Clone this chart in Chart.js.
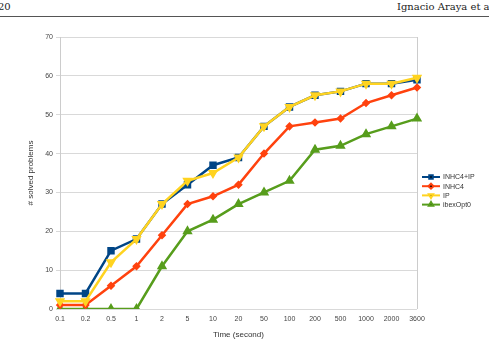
<!DOCTYPE html>
<html>
<head>
<meta charset="utf-8">
<script src="https://cdn.jsdelivr.net/npm/chart.js@4"></script>
<style>
  html, body { margin: 0; padding: 0; background: #fff; }
  body { width: 489px; height: 344px; position: relative; overflow: hidden; }
  .hdr { position: absolute; top: 1px; font-family: "DejaVu Serif", "Liberation Serif", serif; font-size: 10px; color: #222; white-space: nowrap; }
  #rule { position: absolute; left: 0; right: 0; top: 16px; height: 1px; background: #555; }
  #wrap { position: absolute; left: 0; top: 0; width: 489px; height: 344px; }
</style>
</head>
<body>
<div class="hdr" style="left:-2px">20</div>
<div class="hdr" style="left:397px">Ignacio Araya et al.</div>
<div id="rule"></div>
<div id="wrap"><canvas id="chart"></canvas></div>
<script>
// Zeitlimits (Kategorien)
const times = ["0.1", "0.2", "0.5", "1", "2", "5", "10", "20", "50", "100", "200", "500", "1000", "2000", "3600"];

// gelöste Probleme je Variante
const inhc4ip = [4, 4, 15, 18, 27, 32, 37, 39, 47, 52, 55, 56, 58, 58, 59];
const inhc4 = [1, 1, 6, 11, 19, 27, 29, 32, 40, 47, 48, 49, 53, 55, 57];
const ip = [2, 2, 12, 18, 27, 33, 35, 39, 47, 52, 55, 56, 58, 58, 59.5];
const ibexOpt0 = [0, 0, 0, 0, 11, 20, 23, 27, 30, 33, 41, 42, 45, 47, 49];

const yTicks = [0, 10, 20, 30, 40, 50, 60, 70];

const tickFont = { family: "Liberation Sans, Arial, sans-serif", size: 7 };

// eigene Legende: Linie + Marker
const legendPlugin = {
  id: "lineLegend",
  afterDraw(chart) {
    const ctx = chart.ctx;
    const items = chart.data.datasets.slice().sort((a, b) => a.legendIndex - b.legendIndex);
    items.forEach((ds, i) => {
      const y = 177 + i * 9.2;
      ctx.save();
      ctx.strokeStyle = ds.borderColor;
      ctx.lineWidth = 2;
      ctx.beginPath();
      ctx.moveTo(422, y);
      ctx.lineTo(440, y);
      ctx.stroke();
      Chart.helpers.drawPoint(ctx, {
        pointStyle: ds.pointStyle,
        radius: 2.5,
        rotation: ds.pointRotation || 0,
        borderWidth: 1,
      }, 431, y);
      ctx.fillStyle = "#333";
      ctx.font = "7px Liberation Sans, Arial, sans-serif";
      ctx.textBaseline = "middle";
      ctx.fillText(ds.label, 443, y + 0.5);
      ctx.restore();
    });
  },
};

function makeSet(label, data, color, style, radius, order, legendIndex, rotation) {
  return {
    label,
    data,
    borderColor: color,
    backgroundColor: color,
    pointBackgroundColor: color,
    pointBorderColor: color,
    pointStyle: style,
    pointRadius: radius,
    pointRotation: rotation || 0,
    borderWidth: 2.5,
    tension: 0,
    order,
    legendIndex,
  };
}

const ctx = document.getElementById("chart").getContext("2d");
new Chart(ctx, {
  type: "line",
  data: {
    labels: times,
    datasets: [
      makeSet("INHC4+IP", inhc4ip, "#004586", "rect", 3.5, 1, 0),
      makeSet("INHC4", inhc4, "#ff420e", "rectRot", 2.5, 2, 1),
      makeSet("IP", ip, "#ffd320", "triangle", 3.5, 0, 2, 180),
      makeSet("ibexOpt0", ibexOpt0, "#579d1c", "triangle", 3.5, 3, 3),
    ],
  },
  options: {
    responsive: true,
    maintainAspectRatio: false,
    animation: false,
    layout: { padding: { top: 37, right: 72, left: 22, bottom: 0 } },
    plugins: {
      legend: { display: false },
      tooltip: { enabled: false },
    },
    scales: {
      x: {
        offset: false,
        grid: {
          color: (c) => (c.index === 0 || c.index === times.length - 1 ? "#cccccc" : "rgba(0,0,0,0)"),
          drawTicks: false,
        },
        border: { display: false },
        ticks: { font: tickFont, color: "#444", maxRotation: 0, autoSkip: false, padding: 6 },
        title: { display: true, text: "Time (second)", font: { family: "Liberation Sans, Arial, sans-serif", size: 8 }, color: "#333", padding: { top: 6 } },
        afterFit: (s) => { s.height = 35; },
      },
      y: {
        min: 0,
        max: 70,
        afterBuildTicks: (s) => { s.ticks = yTicks.map((v) => ({ value: v })); },
        grid: { color: "#d9d9d9", tickLength: 4 },
        border: { color: "#cccccc" },
        ticks: { font: tickFont, color: "#444", padding: 3 },
        title: { display: true, text: "# solved problems", font: { family: "Liberation Sans, Arial, sans-serif", size: 8 }, color: "#333", padding: { bottom: 0 } },
        afterFit: (s) => { s.width = 38; },
      },
    },
  },
  plugins: [legendPlugin],
});
</script>
</body>
</html>
